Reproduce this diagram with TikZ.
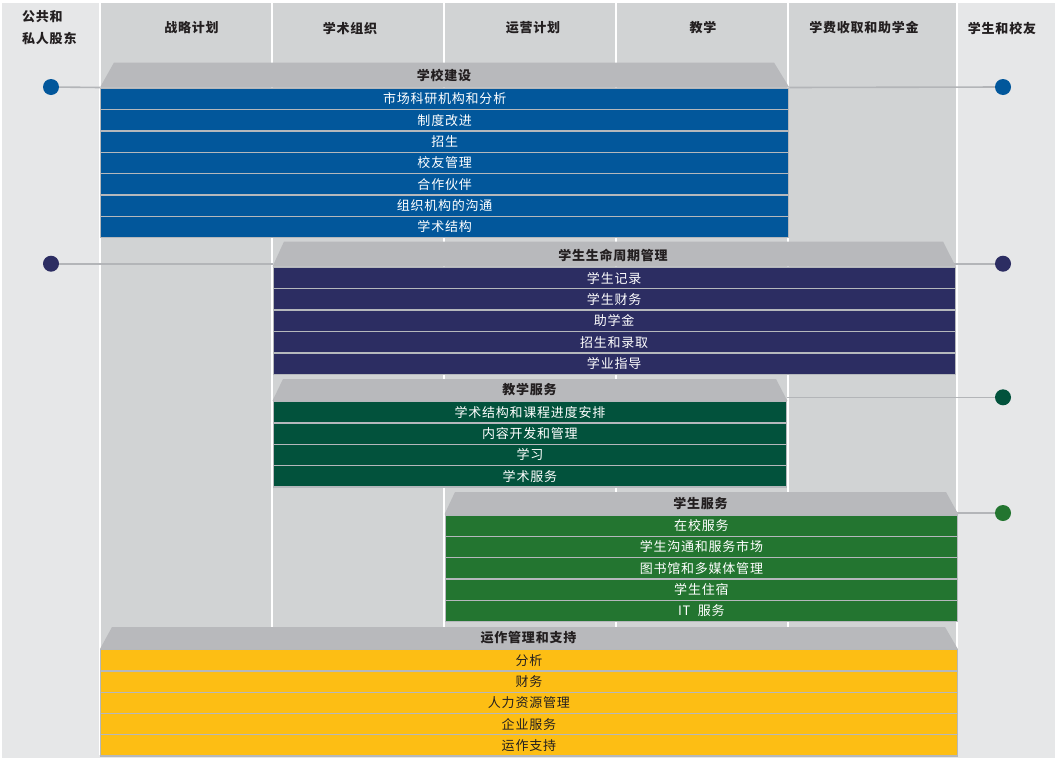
\documentclass[tikz,border=0pt]{standalone}
\usepackage{fontspec}
\setmainfont{Noto Sans CJK SC}
\newfontfamily\myfam[LetterSpace=6]{Noto Sans CJK SC}
\newcommand\myrowfont{\myfam\fontsize{13}{14}\selectfont}
\newcommand\myhdrfont{\myfam\bfseries\fontsize{13}{14}\selectfont}
\definecolor{blueA}{HTML}{02579B}
\definecolor{navyA}{HTML}{2C2D62}
\definecolor{dkgreenA}{HTML}{02523C}
\definecolor{greenA}{HTML}{237530}
\definecolor{yellowA}{HTML}{FDBE14}
\definecolor{hdrgray}{HTML}{B8B9BC}
\definecolor{rowline}{HTML}{B5B8BC}
\definecolor{darkbg}{HTML}{D1D3D4}
\definecolor{lightbg}{HTML}{E6E7E8}
\definecolor{titlecol}{HTML}{231F20}
\definecolor{linkgray}{HTML}{B3B5B8}
\begin{document}
\begin{tikzpicture}[x=1pt,y=-1pt,
  rowbox/.style={draw=rowline,line width=1.3pt,minimum height=21.35pt,inner sep=0pt,anchor=north west,text=white,font=\myrowfont},
  hdrtext/.style={text=titlecol,font=\myhdrfont,inner sep=0pt},
  coltitle/.style={text=titlecol,font=\myhdrfont,inner sep=0pt},
  dot/.style={circle,inner sep=0pt,minimum size=16pt},
  link/.style={draw=linkgray,line width=1.6pt},
  divider/.style={draw=white,line width=1.5pt}]
\useasboundingbox (0,0) rectangle (1055,758);
% background
\fill[white] (0,0) rectangle (1055,758);
\fill[lightbg] (2,3) rectangle (1055,758);
\fill[darkbg] (100,3) rectangle (957,755);
\foreach \x in {100,272,444,616,788,957} \draw[divider] (\x,3) -- (\x,755);
% column titles
\node[coltitle,align=left,anchor=west,font=\myfam\bfseries\fontsize{13}{21.6}\selectfont] (c0) at (22,27.5) {公共和\\私人股东};
\node[coltitle] (c1) at (191.5,28) {战略计划};
\node[coltitle] (c2) at (350,28) {学术组织};
\node[coltitle] (c3) at (533,28) {运营计划};
\node[coltitle] (c4) at (703,28) {教学};
\node[coltitle] (c5) at (864,28) {学费收取和助学金};
\node[coltitle] (c6) at (1002,28) {学生和校友};
% dots
\node[dot,fill=blueA] (dl1) at (51,87) {};
\node[dot,fill=blueA] (dr1) at (1003,87) {};
\node[dot,fill=navyA] (dl2) at (51,263.7) {};
\node[dot,fill=navyA] (dr2) at (1003,263.7) {};
\node[dot,fill=dkgreenA] (dr3) at (1003,397.3) {};
\node[dot,fill=greenA] (dr4) at (1003,513) {};
% connector end points
\coordinate (l2a) at (273,263.7);
\coordinate (l2b) at (954,263.7);
\coordinate (l3a) at (787,397.3);
\coordinate (l4a) at (956,513);
% Block 1 rows
\foreach \t [count=\i] in {市场科研机构和分析,制度改进,招生,校友管理,合作伙伴,组织机构的沟通,学术结构}
  \node[rowbox,fill=blueA,minimum width=688pt] (a\i) at (100,{87.5+(\i-1)*21.35}) {\t};
% Block 2 rows
\foreach \t [count=\i] in {学生记录,学生财务,助学金,招生和录取,学业指导}
  \node[rowbox,fill=navyA,minimum width=682pt] (b\i) at (272.5,{266.7+(\i-1)*21.4}) {\t};
% Block 3 rows
\foreach \t [count=\i] in {学术结构和课程进度安排,内容开发和管理,学习,学术服务}
  \node[rowbox,fill=dkgreenA,minimum width=513.5pt] (g\i) at (272.5,{400.8+(\i-1)*21.4}) {\t};
% Block 4 rows
\foreach \t [count=\i] in {在校服务,学生沟通和服务市场,图书馆和多媒体管理,学生住宿,IT\ \ 服务}
  \node[rowbox,fill=greenA,minimum width=512.5pt] (s\i) at (444.5,{514.3+(\i-1)*21.35}) {\t};
% Block 5 rows
\foreach \t [count=\i] in {分析,财务,人力资源管理,企业服务,运作支持}
  \node[rowbox,fill=yellowA,minimum width=856.5pt,text=titlecol] (y\i) at (100,{649+(\i-1)*21.25}) {\t};
% connectors
\draw[link] (dl1) -- (a1.north west);
\draw[link] (a1.north east) -- (dr1);
\draw[link] (dl2) -- (l2a);
\draw[link] (l2b) -- (dr2);
\draw[link] (l3a) -- (dr3);
\draw[link] (l4a) -- (dr4);
% header trapezoids
\fill[hdrgray] (a1.north west) -- (114,62.5) -- (774,62.5) -- (a1.north east) -- cycle;
\fill[hdrgray] (b1.north west) -- (284,241.5) -- (943,241.5) -- (b1.north east) -- cycle;
\fill[hdrgray] (g1.north west) -- (283,379) -- (776,379) -- (g1.north east) -- cycle;
\fill[hdrgray] (s1.north west) -- (455,492) -- (946,492) -- (s1.north east) -- cycle;
\fill[hdrgray] (y1.north west) -- (112,627) -- (945,627) -- (y1.north east) -- cycle;
\node[hdrtext] (h1) at (444,75) {学校建设};
\node[hdrtext] (h2) at (613,255) {学生生命周期管理};
\node[hdrtext] (h3) at (529.5,390) {教学服务};
\node[hdrtext] (h4) at (700.5,503) {学生服务};
\node[hdrtext] (h5) at (528.5,638) {运作管理和支持};
\end{tikzpicture}
\end{document}
